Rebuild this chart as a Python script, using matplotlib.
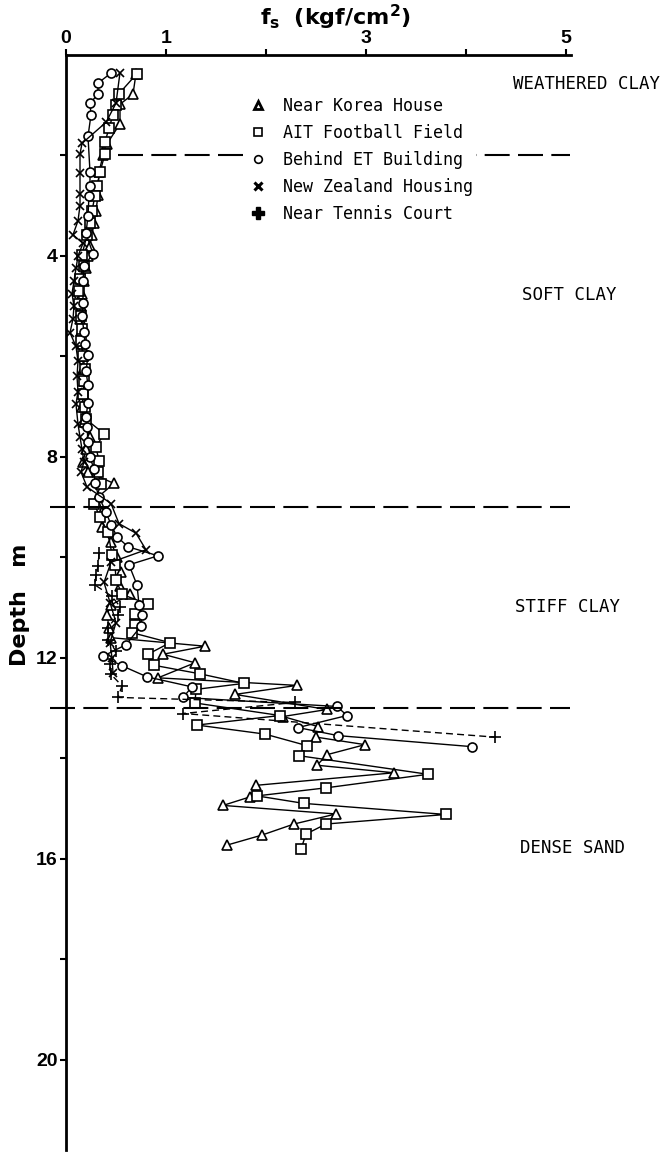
import matplotlib.pyplot as plt
import numpy as np
from matplotlib.lines import Line2D

plt.rcParams['mathtext.fontset'] = 'custom'
plt.rcParams['mathtext.bf'] = 'DejaVu Sans:bold'
plt.rcParams['mathtext.rm'] = 'DejaVu Sans'

# Near Korea House (triangles)
korea_depth = [0.37, 0.78, 0.98, 1.37, 1.77, 2.0, 2.33, 2.79, 3.1, 3.35, 3.58, 3.8, 4.0, 4.25,
               4.5, 4.75, 5.0, 5.25, 5.5, 5.75, 6.0, 6.25, 6.5, 6.75, 7.0, 7.3, 7.6, 7.85, 8.1,
               8.3, 8.53, 8.8, 9.1, 9.39, 9.7, 9.99, 10.3, 10.58, 10.74, 10.95, 11.14, 11.4,
               11.6, 11.77, 11.93, 12.1, 12.4, 12.55, 12.73, 13.03, 13.17, 13.37, 13.58, 13.73,
               13.93, 14.14, 14.29, 14.54, 14.77, 14.94, 15.11, 15.31, 15.53, 15.73]
korea_fs = [0.70, 0.67, 0.54, 0.54, 0.41, 0.37, 0.33, 0.32, 0.30, 0.28, 0.26, 0.24, 0.22, 0.20,
            0.18, 0.16, 0.15, 0.14, 0.15, 0.16, 0.17, 0.17, 0.18, 0.17, 0.16, 0.18, 0.24, 0.20, 0.17,
            0.22, 0.48, 0.32, 0.36, 0.36, 0.45, 0.51, 0.55, 0.54, 0.64, 0.45, 0.41, 0.43,
            0.45, 1.39, 0.97, 1.29, 0.92, 2.31, 1.69, 2.61, 2.17, 2.52, 2.50, 2.99,
            2.61, 2.51, 3.28, 1.90, 1.84, 1.57, 2.70, 2.28, 1.96, 1.61]

# AIT Football Field (squares)
ait_depth = [0.37, 0.77, 1.0, 1.2, 1.45, 1.74, 1.97, 2.33, 2.6, 2.8, 3.1, 3.35, 3.58, 3.98, 4.2,
             4.45, 4.7, 4.95, 5.2, 5.45, 5.7, 6.0, 6.25, 6.5, 6.75, 7.0, 7.25, 7.54, 7.8, 8.09,
             8.3, 8.55, 8.93, 9.2, 9.5, 9.95, 10.15, 10.45, 10.74, 10.93, 11.13, 11.34, 11.5,
             11.7, 11.93, 12.15, 12.32, 12.51, 12.63, 12.9, 13.15, 13.34, 13.52, 13.75, 13.95,
             14.32, 14.59, 14.75, 14.9, 15.12, 15.31, 15.51, 15.81]
ait_fs = [0.71, 0.53, 0.50, 0.47, 0.43, 0.39, 0.39, 0.34, 0.31, 0.29, 0.26, 0.24, 0.21, 0.16, 0.18,
          0.14, 0.13, 0.13, 0.15, 0.16, 0.15, 0.17, 0.19, 0.18, 0.17, 0.19, 0.20, 0.38, 0.30, 0.33,
          0.32, 0.35, 0.28, 0.34, 0.42, 0.46, 0.49, 0.50, 0.56, 0.82, 0.69, 0.69, 0.66,
          1.04, 0.82, 0.88, 1.34, 1.78, 1.30, 1.29, 2.14, 1.31, 1.99, 2.41, 2.33,
          3.62, 2.60, 1.91, 2.38, 3.80, 2.60, 2.40, 2.35]

# Behind ET Building (circles)
et_depth = [0.36, 0.56, 0.78, 0.96, 1.19, 1.62, 2.33, 2.6, 2.8, 3.2, 3.55, 3.96, 4.2, 4.5, 4.94,
            5.2, 5.52, 5.75, 5.98, 6.3, 6.57, 6.93, 7.2, 7.4, 7.7, 8.0, 8.25, 8.53, 8.8, 9.1,
            9.35, 9.59, 9.79, 9.97, 10.15, 10.55, 10.94, 11.14, 11.37, 11.74, 11.97, 12.16,
            12.38, 12.58, 12.79, 12.97, 13.15, 13.39, 13.55, 13.77]
et_fs = [0.45, 0.32, 0.32, 0.24, 0.25, 0.22, 0.24, 0.24, 0.23, 0.22, 0.20, 0.27, 0.18, 0.17, 0.17,
         0.16, 0.18, 0.19, 0.22, 0.20, 0.22, 0.22, 0.20, 0.21, 0.22, 0.24, 0.28, 0.29, 0.33, 0.40,
         0.45, 0.51, 0.62, 0.92, 0.63, 0.71, 0.73, 0.76, 0.75, 0.60, 0.37, 0.56,
         0.81, 1.26, 1.17, 2.71, 2.81, 2.32, 2.72, 4.06]

# New Zealand Housing (crosses)
nz_depth = [0.35, 0.96, 1.34, 1.76, 1.97, 2.35, 2.76, 3.0, 3.3, 3.58, 3.75, 4.0, 4.25, 4.5, 4.75,
            5.0, 5.25, 5.53, 5.8, 6.1, 6.4, 6.7, 6.95, 7.35, 7.6, 7.85, 8.1, 8.3, 8.6, 8.93,
            9.33, 9.52, 9.85, 10.1, 10.5, 10.9, 11.3, 11.7, 12.0, 12.3]
nz_fs = [0.54, 0.50, 0.40, 0.16, 0.14, 0.14, 0.14, 0.14, 0.12, 0.07, 0.17, 0.12, 0.10, 0.08, 0.06,
         0.08, 0.07, 0.04, 0.10, 0.12, 0.11, 0.12, 0.10, 0.12, 0.14, 0.16, 0.18, 0.15, 0.21, 0.45,
         0.53, 0.70, 0.80, 0.45, 0.38, 0.44, 0.50, 0.44, 0.46, 0.47]

# Near Tennis Court (plus, dashed)
tennis_depth = [9.92, 10.18, 10.35, 10.55, 10.78, 10.98, 11.14, 11.4, 11.64, 11.87, 12.13, 12.33,
                12.56, 12.79, 12.89, 13.11, 13.58]
tennis_fs = [0.33, 0.32, 0.30, 0.29, 0.46, 0.54, 0.52, 0.42, 0.42, 0.50, 0.44, 0.45,
             0.56, 0.52, 2.29, 1.17, 4.29]

layer_depths = [2.0, 9.0, 13.0]
layer_names = ["WEATHERED CLAY", "SOFT CLAY", "STIFF CLAY", "DENSE SAND"]
layer_label_depth = [0.58, 4.78, 10.99, 15.78]
layer_label_x = [4.47, 4.56, 4.49, 4.54]

fig = plt.figure(figsize=(6.65, 11.6), dpi=100)
ax = fig.add_axes([66 / 665, 10 / 1160, 505 / 665, 1095 / 1160])

mk = dict(color="black", lw=1.0, mfc="white", mec="black", mew=1.2)
ax.plot(korea_fs, korea_depth, marker="^", ms=7.5, **mk)
ax.plot(ait_fs, ait_depth, marker="s", ms=6.5, **mk)
ax.plot(et_fs, et_depth, marker="o", ms=6.5, **mk)
ax.plot(nz_fs, nz_depth, marker="x", ms=6, color="black", lw=1.0, mew=1.2)
ax.plot(tennis_fs, tennis_depth, marker="+", ms=9, color="black", lw=1.0, mew=1.2,
        linestyle=(0, (5, 3)))

# layer boundaries
starts = [0.103, -0.032, -0.032]
for d, s in zip(layer_depths, starts):
    ax.axhline(d, xmin=s, xmax=0.998, color="black", lw=1.5, dashes=(12, 4), clip_on=False)

for name, x, d in zip(layer_names, layer_label_x, layer_label_depth):
    ax.text(x, d, name, family="DejaVu Sans Mono", fontsize=12.5, ha="left", va="center",
            clip_on=False)

ax.set_xlim(0, 5.05)
ax.set_ylim(21.8, 0)

for sp in ["right", "bottom"]:
    ax.spines[sp].set_visible(False)
for sp in ["left", "top"]:
    ax.spines[sp].set_linewidth(2)

ax.xaxis.tick_top()
ax.set_xticks([0, 1, 2, 3, 4, 5])
ax.set_xticklabels(["0", "1", "", "3", "", "5"])
ax.set_yticks([4, 8, 12, 16, 20])
ax.set_yticks([2, 6, 10, 14, 18], minor=True)
ax.tick_params(axis="both", which="both", direction="out", length=4, width=1.5, pad=2)
for lab in ax.get_xticklabels() + ax.get_yticklabels():
    lab.set_fontfamily("Liberation Sans")
    lab.set_fontweight("bold")
    lab.set_fontsize(14)

fig.text(335 / 665, 1 - 17 / 1160, r"$\mathbf{f_s}$  $\mathbf{(kgf/cm^2)}$", fontsize=16,
         ha="center", va="center")
fig.text(20 / 665, 1 - 605 / 1160, "Depth   m", family="DejaVu Sans", fontweight="bold",
         fontsize=16, rotation=90, ha="center", va="center")

handles = [
    Line2D([], [], ls="none", marker="^", ms=6, mfc="white", mec="black", mew=2),
    Line2D([], [], ls="none", marker="s", ms=5.5, mfc="white", mec="black", mew=1.2),
    Line2D([], [], ls="none", marker="o", ms=5.5, mfc="white", mec="black", mew=1.2),
    Line2D([], [], ls="none", marker="x", ms=6, color="black", mew=2.2),
    Line2D([], [], ls="none", marker="P", ms=8, color="black"),
]
labels = ["Near Korea House", "AIT Football Field", "Behind ET Building",
          "New Zealand Housing", "Near Tennis Court"]
leg = ax.legend(handles, labels, loc="upper left", bbox_to_anchor=(241 / 665, 1 - 85 / 1160),
                bbox_transform=fig.transFigure, frameon=True, facecolor="white",
                edgecolor="none", framealpha=1, fancybox=False, borderpad=0.2,
                handlelength=0.6, handletextpad=1.2, labelspacing=0.55,
                prop={"family": "DejaVu Sans Mono", "size": 12})
leg.set_zorder(5)

fig.savefig("out.png", dpi=100)
